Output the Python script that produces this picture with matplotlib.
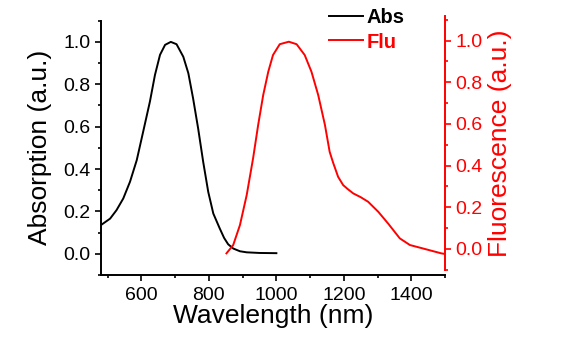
import matplotlib
matplotlib.use("Agg")
import numpy as np
from matplotlib import pyplot as plt
from matplotlib.ticker import MultipleLocator

plt.rcParams['font.family'] = ['Liberation Sans', 'DejaVu Sans']

# Absorption spectrum (normalised)
abs_wl = [482, 507, 526, 546, 566, 586, 605, 625, 640, 655, 670, 687,
          704, 724, 739, 753, 768, 783, 798, 813, 832, 845, 857, 872,
          892, 912, 950, 1000]
abs_val = [0.138, 0.166, 0.206, 0.261, 0.34, 0.442, 0.576, 0.718, 0.844,
           0.939, 0.986, 1.0, 0.989, 0.93, 0.852, 0.734, 0.592, 0.434,
           0.292, 0.19, 0.12, 0.075, 0.045, 0.025, 0.012, 0.007, 0.004,
           0.003]

# Fluorescence spectrum (normalised)
flu_wl = [852, 872, 892, 912, 931, 946, 961, 976, 990, 1010, 1037, 1060,
          1084, 1104, 1124, 1144, 1158, 1168, 1183, 1198, 1213, 1228, 1250,
          1272, 1302, 1331, 1366, 1396, 1445, 1489, 1500]
flu_val = [-0.022, 0.018, 0.114, 0.258, 0.435, 0.595, 0.739, 0.851, 0.931,
           0.983, 0.995, 0.983, 0.931, 0.851, 0.739, 0.595, 0.466, 0.415,
           0.346, 0.306, 0.285, 0.266, 0.248, 0.226, 0.178, 0.122, 0.05,
           0.018, -0.003, -0.022, -0.025]

RED = '#ff0000'
W, H = 570, 348

fig = plt.figure(figsize=(W / 100, H / 100), dpi=100)
ax = fig.add_axes([101 / W, (H - 275) / H, 344 / W, 254.3 / H])
ax2 = fig.add_axes([101 / W, (H - 270) / H, 344 / W, 254.3 / H])
ax2.patch.set_alpha(0)

l1, = ax.plot(abs_wl, abs_val, color='black', lw=1.4, label='Abs')
l2, = ax2.plot(flu_wl, flu_val, color=RED, lw=1.4, label='Flu')

for a in (ax, ax2):
    a.set_xlim(480, 1500)
    a.spines['top'].set_visible(False)
    a.yaxis.set_major_locator(MultipleLocator(0.2))
    a.yaxis.set_minor_locator(MultipleLocator(0.1))
    a.tick_params(which='major', length=4.5, width=1.2, labelsize=14)
    a.tick_params(which='minor', length=2.5, width=1.2)

ax.set_ylim(-0.1, 1.1)
ax.spines['right'].set_visible(False)
for s in ('left', 'bottom'):
    ax.spines[s].set_linewidth(1.4)
ax.xaxis.set_major_locator(MultipleLocator(200))
ax.xaxis.set_minor_locator(MultipleLocator(100))
ax.tick_params(axis='x', which='major', pad=4)
ax.tick_params(axis='y', which='major', pad=3)
ax.set_xlabel('Wavelength (nm)', fontsize=19, labelpad=0)
ax.set_ylabel('Absorption (a.u.)', fontsize=19, labelpad=8)

ax2.set_ylim(-0.102, 1.12)
for s in ('left', 'bottom'):
    ax2.spines[s].set_visible(False)
ax2.spines['right'].set_color(RED)
ax2.spines['right'].set_linewidth(1.4)
ax2.xaxis.set_visible(False)
ax2.yaxis.tick_right()
ax2.yaxis.set_label_position('right')
ax2.tick_params(axis='y', which='both', colors=RED)
ax2.tick_params(axis='y', which='major', pad=3)
ax2.set_ylabel('Fluorescence (a.u.)', fontsize=19, color=RED, labelpad=4)

fig.legend(handles=[l1, l2], loc='center left',
           bbox_to_anchor=(329 / W, 1 - 30 / H), frameon=False,
           labelcolor='linecolor', prop={'weight': 'bold', 'size': 14.5},
           handlelength=1.7, handletextpad=0.15, labelspacing=0.25,
           borderpad=0, borderaxespad=0)

fig.savefig('out.png', dpi=100)
